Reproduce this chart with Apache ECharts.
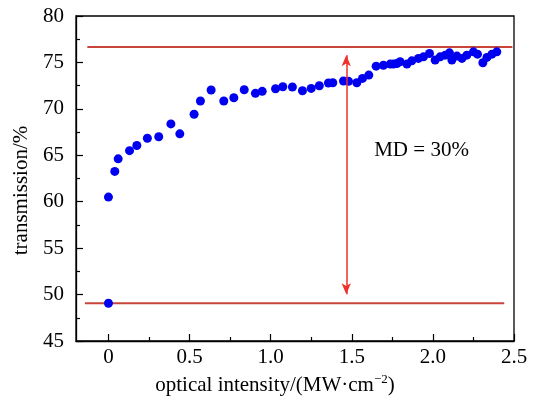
<!DOCTYPE html>
<html>
<head>
<meta charset="utf-8">
<script src="https://cdn.jsdelivr.net/npm/echarts@6/dist/echarts.min.js"></script>
<style>
html,body{margin:0;padding:0;background:#fff;}
#main{width:534px;height:403px;}
</style>
</head>
<body>
<div id="main"></div>
<script>
// Data
var xVals = [0, 0, 0.039, 0.06, 0.13, 0.175, 0.24, 0.31, 0.385, 0.44, 0.528, 0.567, 0.633, 0.711, 0.773, 0.837, 0.906, 0.948, 1.03, 1.075, 1.134, 1.196, 1.25, 1.30, 1.356, 1.383, 1.449, 1.48, 1.531, 1.566, 1.605, 1.65, 1.695, 1.737, 1.757, 1.778, 1.798, 1.84, 1.87, 1.911, 1.942, 1.979, 2.014, 2.045, 2.076, 2.102, 2.117, 2.148, 2.179, 2.209, 2.25, 2.275, 2.308, 2.333, 2.364, 2.394];
var yVals = [49.07, 60.5, 63.26, 64.62, 65.5, 66.05, 66.84, 67.0, 68.38, 67.31, 69.42, 70.85, 72.03, 70.85, 71.2, 72.06, 71.67, 71.89, 72.17, 72.38, 72.35, 71.95, 72.2, 72.49, 72.78, 72.81, 73.0, 72.96, 72.81, 73.28, 73.64, 74.6, 74.7, 74.82, 74.82, 74.89, 75.07, 74.82, 75.17, 75.43, 75.6, 75.96, 75.25, 75.6, 75.78, 76.03, 75.25, 75.68, 75.43, 75.78, 76.14, 75.89, 74.96, 75.54, 75.89, 76.14];
var topLineX = [-0.13, 2.49];
var topLineY = [76.67, 76.67];
var bottomLineX = [-0.145, 2.44];
var bottomLineY = [49.07, 49.07];
var arrowX = 1.466;
var arrowY = [50.03, 75.78];
var mdLabel = 'MD = 30%';
var mdPos = [1.93, 65.5];
var xTickLabels = [0, 0.5, 1.0, 1.5, 2.0, 2.5];
var xMinorTicks = [0.25, 0.75, 1.25, 1.75, 2.25];
var yTicks = [45, 50, 55, 60, 65, 70, 75, 80];

var FONT = 'Liberation Serif';
var chart = echarts.init(document.getElementById('main'), null, {renderer: 'canvas'});

function pairs(xs, ys){ return xs.map(function(x,i){ return [x, ys[i]]; }); }

var option = {
  animation: false,
  backgroundColor: '#fff',
  textStyle: {fontFamily: FONT},
  grid: {left: 76, right: 20, top: 16, bottom: 62, show: true, borderColor: '#000', borderWidth: 1.3, backgroundColor: 'transparent'},
  xAxis: [{
    type: 'value', min: -0.2, max: 2.5,
    position: 'bottom',
    name: '{a|optical intensity/(MW·cm}{s|−2}{a|)}',
    nameLocation: 'middle', nameGap: 26,
    nameTextStyle: {fontFamily: FONT, fontSize: 21, color: '#000', padding: [0, 40, 0, 0],
      rich: {a: {fontFamily: FONT, fontSize: 21, color: '#000'}, s: {fontFamily: FONT, fontSize: 13, color: '#000', verticalAlign: 'top', padding: [0, 0, 12, 0]}}},
    axisLine: {show: true, onZero: false, lineStyle: {color: '#000', width: 1.3}},
    axisTick: {show: true, inside: true, length: 7, customValues: xTickLabels, lineStyle: {color: '#000', width: 1.2}},
    axisLabel: {show: true, customValues: xTickLabels, margin: 6, fontFamily: FONT, fontSize: 21, color: '#000',
      formatter: function(v){ return v === 0 ? '0' : v.toFixed(1); }},
    splitLine: {show: false}
  }, {
    type: 'value', min: -0.2, max: 2.5,
    position: 'bottom',
    axisLine: {show: false, onZero: false},
    axisTick: {show: true, inside: true, length: 4, customValues: xMinorTicks, lineStyle: {color: '#000', width: 1.2}},
    axisLabel: {show: false},
    splitLine: {show: false}
  }],
  yAxis: {
    type: 'value', min: 45, max: 80, interval: 5,
    name: 'transmission/%',
    nameLocation: 'middle', nameGap: 33,
    nameTextStyle: {fontFamily: FONT, fontSize: 21, color: '#000', padding: [0, 24, 0, 0]},
    axisLine: {show: true, onZero: false, lineStyle: {color: '#000', width: 1.3}},
    axisTick: {show: true, inside: true, length: 7, lineStyle: {color: '#000', width: 1.2}},
    minorTick: {show: true, splitNumber: 2, length: 4, lineStyle: {color: '#000', width: 1.2}},
    axisLabel: {margin: 12, fontFamily: FONT, fontSize: 21, color: '#000'},
    splitLine: {show: false}
  },
  series: [{
    type: 'line', data: pairs(topLineX, topLineY), symbol: 'none', silent: true,
    lineStyle: {color: '#c8443b', width: 2}, z: 2
  }, {
    type: 'line', data: pairs(bottomLineX, bottomLineY), symbol: 'none', silent: true,
    lineStyle: {color: '#c8443b', width: 2}, z: 2
  }, {
    type: 'scatter', data: pairs(xVals, yVals), symbol: 'circle', symbolSize: 9,
    itemStyle: {color: '#0000f0', opacity: 1}, z: 3,
    markLine: {
      silent: true, symbol: ['arrow', 'arrow'], symbolSize: [7, 11],
      lineStyle: {color: '#f0302a', width: 1.5, type: 'solid'},
      label: {show: false},
      data: [[{coord: [arrowX, arrowY[0]]}, {coord: [arrowX, arrowY[1]]}]]
    },
    markPoint: {
      silent: true, symbol: 'circle', symbolSize: 0,
      label: {show: true, formatter: mdLabel, fontFamily: FONT, fontSize: 21, color: '#000', position: 'inside'},
      data: [{coord: mdPos}]
    }
  }]
};
chart.setOption(option);
</script>
</body>
</html>
